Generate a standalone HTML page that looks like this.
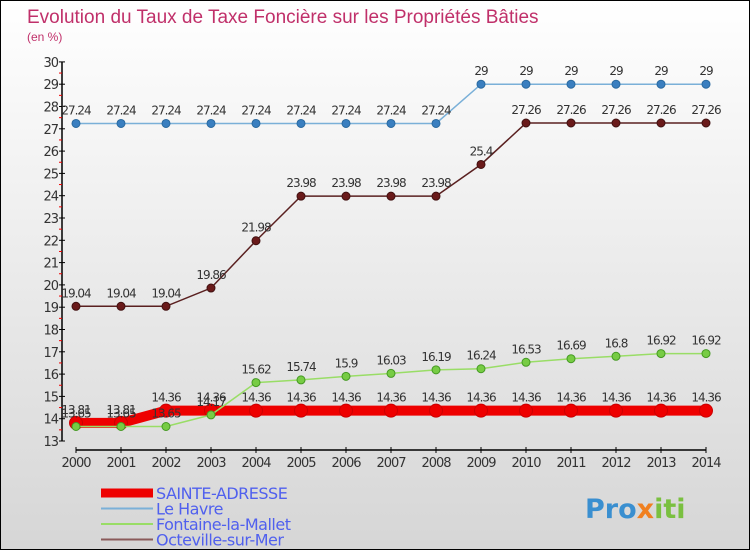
<!DOCTYPE html>
<html><head><meta charset="utf-8"><style>
body{margin:0}
#c{position:relative;width:748px;height:548px;border:1px solid #000;background:linear-gradient(#fff,#d6d6d6);font-family:"DejaVu Sans","Liberation Sans",sans-serif;overflow:hidden}
</style></head><body>
<div id="c">
<svg id="s" width="748" height="548" xmlns="http://www.w3.org/2000/svg" style="position:absolute;left:0;top:0">
<text x="26" y="22" font-size="19" fill="#c0306a" font-family="Liberation Sans, sans-serif">Evolution du Taux de Taxe Foncière sur les Propriétés Bâties</text>
<text x="26" y="40" font-size="12" fill="#c0306a" font-family="Liberation Sans, sans-serif">(en %)</text>
<g id="axes"></g><g id="series"></g><g id="legend"></g>
<text x="584" y="517" font-size="27" font-weight="bold" fill="#3a8fd0">Pro<tspan fill="#f08020">x</tspan><tspan fill="#7ac040">iti</tspan></text>
</svg>
</div>
<script>
const years=[2000,2001,2002,2003,2004,2005,2006,2007,2008,2009,2010,2011,2012,2013,2014];
const sainte=[13.81,13.81,14.36,14.36,14.36,14.36,14.36,14.36,14.36,14.36,14.36,14.36,14.36,14.36,14.36];
const havre=[27.24,27.24,27.24,27.24,27.24,27.24,27.24,27.24,27.24,29,29,29,29,29,29];
const fontaine=[13.65,13.65,13.65,14.17,15.62,15.74,15.9,16.03,16.19,16.24,16.53,16.69,16.8,16.92,16.92];
const octeville=[19.04,19.04,19.04,19.86,21.98,23.98,23.98,23.98,23.98,25.4,27.26,27.26,27.26,27.26,27.26];
const yTicks=[13,14,15,16,17,18,19,20,21,22,23,24,25,26,27,28,29,30];
const NS="http://www.w3.org/2000/svg";
const X=i=>75+i*45, Y=v=>440-(v-13)*22.3;
function mk(p,t,a){const e=document.createElementNS(NS,t);for(const k in a)e.setAttribute(k,a[k]);p.appendChild(e);return e;}
const ax=document.getElementById('axes');
let e=mk(ax,'line',{x1:61,y1:Y(30),x2:61,y2:Y(13),stroke:'#000','stroke-width':1.5});

e=mk(ax,'line',{x1:75,y1:449,x2:X(14),y2:449,stroke:'#000','stroke-width':1.5});

yTicks.forEach(v=>{
 mk(ax,'line',{x1:58,y1:Y(v),x2:64,y2:Y(v),stroke:'#000'});
 if(v<30)mk(ax,'line',{x1:58,y1:Y(v+0.5),x2:61,y2:Y(v+0.5),stroke:'#e00'});
 const t=mk(ax,'text',{x:57,y:Y(v)+5,'font-size':13,'text-anchor':'end',fill:'#333','letter-spacing':'-1'});t.textContent=v;
 
});
years.forEach((yr,i)=>{
 mk(ax,'line',{x1:X(i),y1:446,x2:X(i),y2:452,stroke:'#000'});
 const t=mk(ax,'text',{x:X(i),y:466,'font-size':13,'text-anchor':'middle',fill:'#333','letter-spacing':'-1'});t.textContent=yr;
 
});
const sg=document.getElementById('series');
function series(vals,col,dot,w,r,name,dotStroke){
 const g=mk(sg,'g',{});
 
 mk(g,'polyline',{points:vals.map((v,i)=>X(i)+','+Y(v)).join(' '),fill:'none',stroke:col,'stroke-width':w});
 vals.forEach((v,i)=>{
  const c=mk(g,'circle',{cx:X(i),cy:Y(v),r:r,fill:dot,stroke:dotStroke,'stroke-width':1});
  
  const t=mk(g,'text',{x:X(i),y:Y(v)-9,'font-size':12,'text-anchor':'middle',fill:'#333','letter-spacing':'-1'});t.textContent=v;
 });
}
series(havre,'#7ab0d8','#3a7fc0',1.5,4,'series-le-havre','#2a6aa0');
series(octeville,'#5a2020','#6a1a1a',1.5,4,'series-octeville','#401010');
series(sainte,'#ee0000','#ee0000',10,6.5,'series-sainte-adresse','#c00');
series(fontaine,'#99dd66','#77cc44',1.5,4,'series-fontaine','#449922');
const lg=document.getElementById('legend');
[['SAINTE-ADRESSE','#ee0000',9],['Le Havre','#7ab0d8',2],['Fontaine-la-Mallet','#99dd66',2],['Octeville-sur-Mer','#8a5a5a',2]].forEach((d,i)=>{
 const y=492+i*15.5;
 const g=mk(lg,'g',{});
 
 mk(g,'line',{x1:100,y1:y,x2:152,y2:y,stroke:d[1],'stroke-width':d[2]});
 const t=mk(g,'text',{x:155,y:y+6,'font-size':16,fill:'#5060ee','letter-spacing':'-0.5'});t.textContent=d[0];
});
</script>
</body></html>
